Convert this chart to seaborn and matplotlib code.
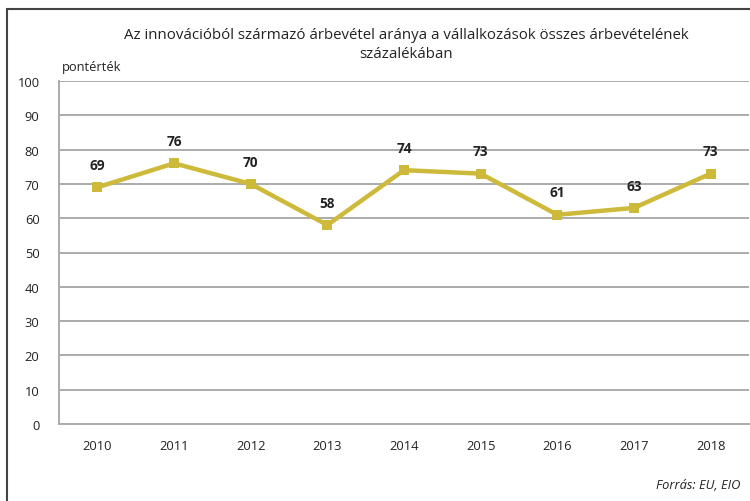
import matplotlib
matplotlib.use("Agg")
import matplotlib.pyplot as plt
import seaborn as sns
import pandas as pd
from matplotlib.patches import Rectangle

years = ["2010", "2011", "2012", "2013", "2014", "2015", "2016", "2017", "2018"]
values = [69, 76, 70, 58, 74, 73, 61, 63, 73]
y_ticks = [0, 10, 20, 30, 40, 50, 60, 70, 80, 90, 100]

title = "Az innovációból származó árbevétel aránya a vállalkozások összes árbevételének\nszázalékában"
unit_label = "pontérték"
source = "Forrás: EU, EIO"

sns.set_theme(style="white")
plt.rcParams["font.family"] = ["Open Sans", "DejaVu Sans"]

df = pd.DataFrame({"year": years, "value": values})

fig = plt.figure(figsize=(7.5, 5.02), dpi=100)
ax = fig.add_axes([59 / 750, 1 - 425 / 502, 690 / 750, 343 / 502])

line_color = "#CDB93A"
sns.lineplot(data=df, x="year", y="value", ax=ax, color=line_color, linewidth=3.2,
             marker="s", markersize=7.5, markeredgewidth=0, sort=False)

ax.set_xlim(-0.5, len(years) - 0.5)
ax.set_ylim(0, 100)
ax.set_yticks(y_ticks)
ax.yaxis.grid(True, color="#ABABAB", linewidth=1.4)
ax.xaxis.grid(False)
ax.set_axisbelow(True)
for side in ["top", "right"]:
    ax.spines[side].set_visible(False)
for side in ["left", "bottom"]:
    ax.spines[side].set_color("#ABABAB")
    ax.spines[side].set_linewidth(1.4)
ax.tick_params(axis="both", length=0, labelsize=9.3, colors="#222222")
ax.tick_params(axis="y", pad=14)
ax.tick_params(axis="x", pad=11)
ax.set_xlabel("")
ax.set_ylabel("")

for i, v in enumerate(values):
    ax.annotate(str(v), (i, v), xytext=(0, 11), textcoords="offset points",
                ha="center", va="bottom", fontsize=9.8, fontweight="bold", color="#222222")

fig.text(406 / 750, 1 - 45 / 502, title, ha="center", va="center", fontsize=10.8,
         color="#222222", linespacing=1.3)
fig.text(62 / 750, 1 - 68 / 502, unit_label, ha="left", va="center", fontsize=9.3, color="#222222")
fig.text(740 / 750, 1 - 486 / 502, source, ha="right", va="center", fontsize=9.3,
         style="italic", color="#222222")

# outer frame
fig.patches.append(Rectangle((7 / 750, -0.1), 1.2, 1 - 10 / 502 + 0.1, transform=fig.transFigure,
                             fill=False, edgecolor="#444444", linewidth=1.5))

fig.savefig("out.png", dpi=100)
